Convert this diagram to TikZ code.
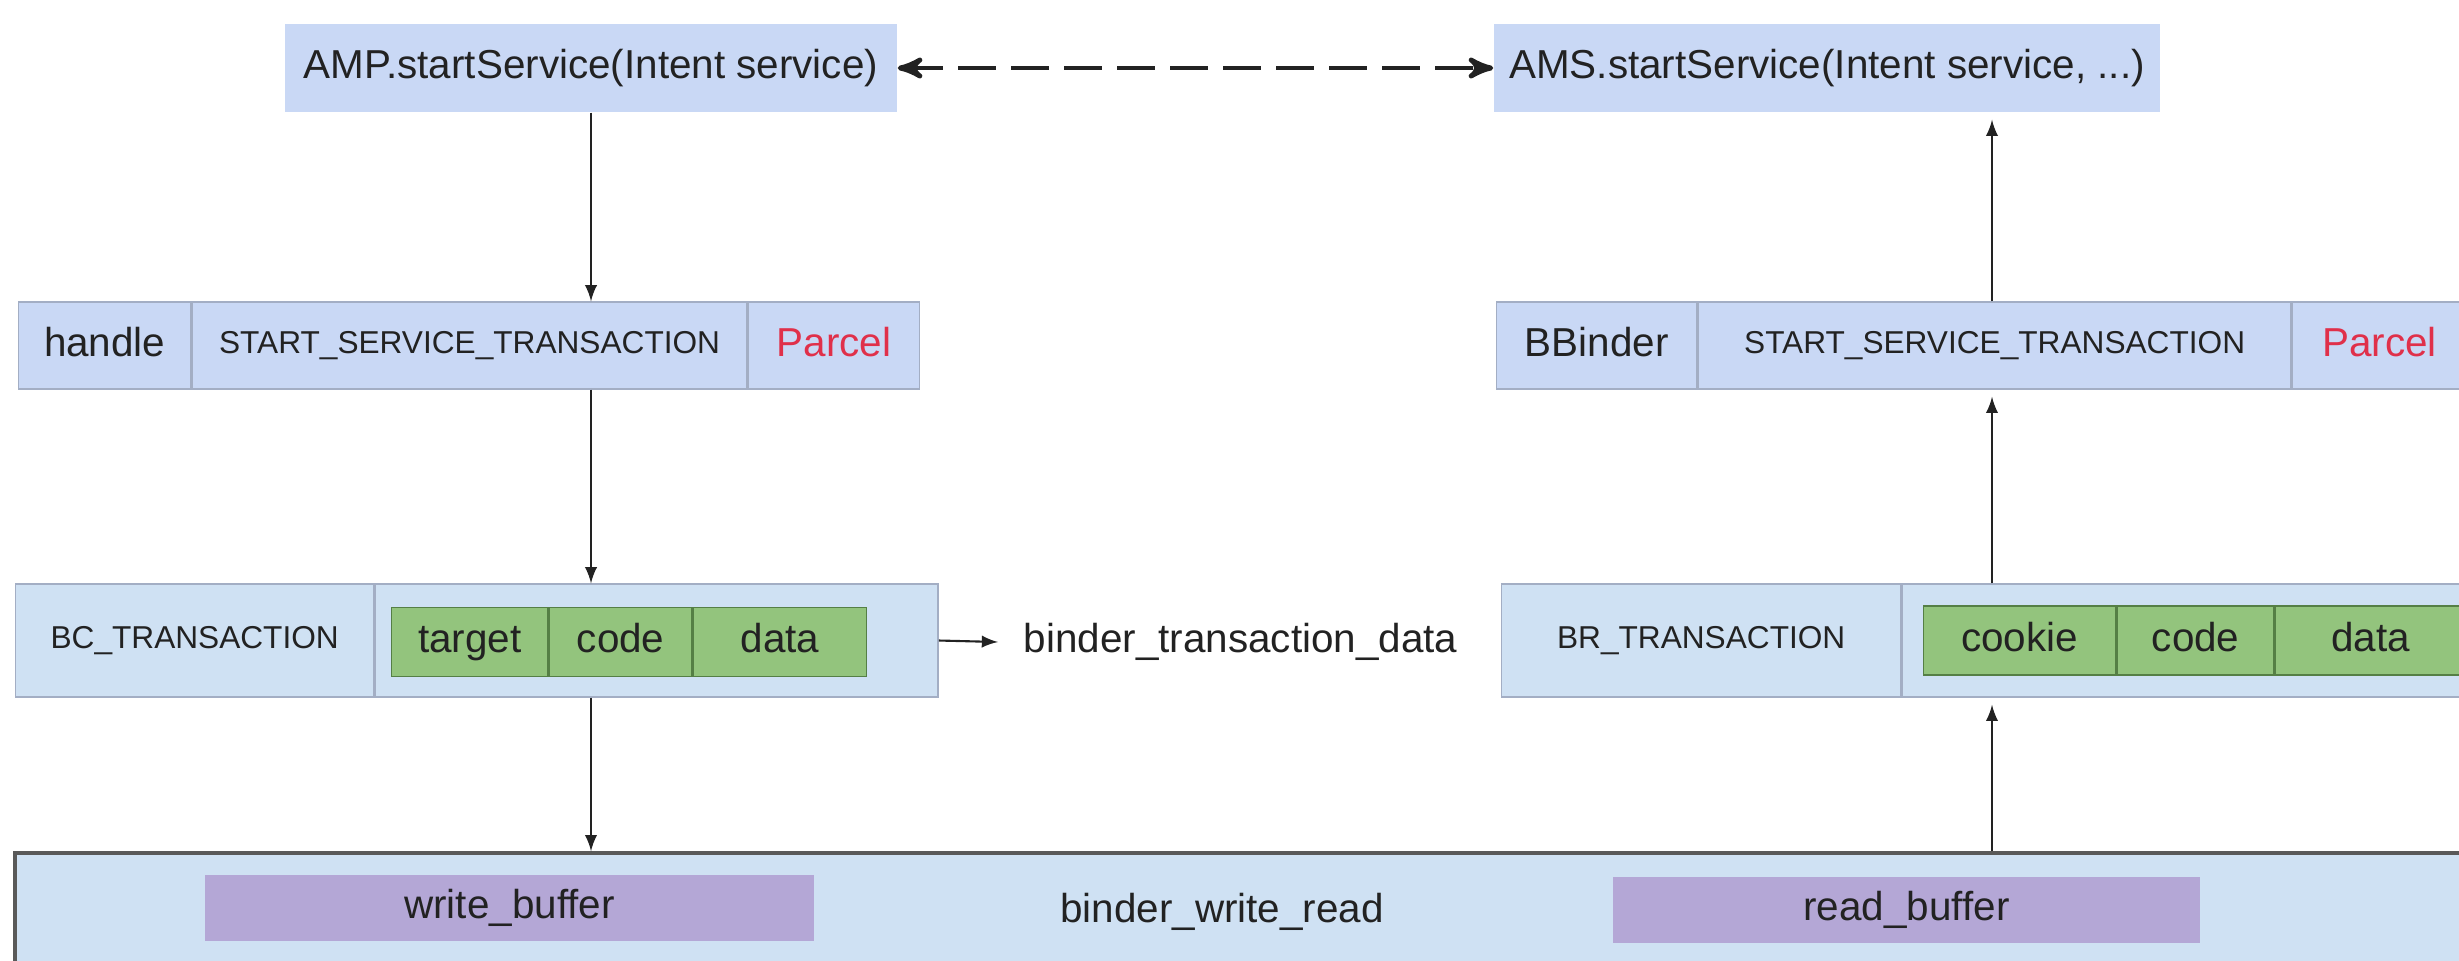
\documentclass[tikz,border=0pt]{standalone}
\usepackage{fontspec}
\setmainfont{Liberation Sans}
\usetikzlibrary{arrows, positioning}
\definecolor{callblue}{HTML}{C9D8F5}
\definecolor{rowblue}{HTML}{CFE1F3}
\definecolor{cellline}{HTML}{A3AEC4}
\definecolor{fieldgreen}{HTML}{93C47D}
\definecolor{fieldline}{HTML}{557F45}
\definecolor{bufpurple}{HTML}{B4A7D6}
\definecolor{parcelred}{HTML}{E0304A}
\definecolor{inkgray}{HTML}{222222}

\begin{document}
\begin{tikzpicture}[
  big/.style={font=\fontsize{11.5}{13}\selectfont, text=inkgray, text height=8.4pt, text depth=2.4pt},
  small/.style={font=\fontsize{9}{11}\selectfont, text=inkgray, text height=6.6pt, text depth=1.9pt},
  call/.style={rectangle, fill=callblue, minimum height=0.88cm, inner sep=0pt, big},
  cell/.style={rectangle, draw=cellline, fill=callblue, minimum height=0.87cm, inner sep=0pt},
  cmdcell/.style={rectangle, draw=cellline, fill=rowblue, minimum height=1.13cm, inner sep=0pt},
  field/.style={rectangle, draw=fieldline, fill=fieldgreen, minimum height=0.69cm, inner sep=0pt, big},
  buf/.style={rectangle, fill=bufpurple, minimum height=0.66cm, inner sep=0pt, big},
  flow/.style={-latex, line width=0.6pt, inkgray}
]
\useasboundingbox (0,0) rectangle (24.59,-9.60);
\clip (0,0) rectangle (24.59,-9.60);

% Calls
\node[call, minimum width=6.12cm] (amp) at (5.91,-0.68) {AMP.startService(Intent service)};
\node[call, minimum width=6.66cm] (ams) at (18.27,-0.68) {AMS.startService(Intent service, ...)};
\draw[stealth'-stealth', line width=1.4pt, dash pattern=on 0.38cm off 0.15cm, inkgray] (amp.east) -- (ams.west);

% Parcel rows
\node[cell, minimum width=1.72cm, big, anchor=west] (handle) at (0.18,-3.455) {handle};
\node[cell, minimum width=5.55cm, small, right=0pt of handle] (sstleft) {START\_SERVICE\_TRANSACTION};
\node[cell, minimum width=1.71cm, big, text=parcelred, right=0pt of sstleft] (parcelleft) {Parcel};

\node[cell, minimum width=2.00cm, big, anchor=west] (bbinder) at (14.96,-3.455) {BBinder};
\node[cell, minimum width=5.93cm, small, right=0pt of bbinder] (sstright) {START\_SERVICE\_TRANSACTION};
\node[cell, minimum width=1.74cm, big, text=parcelred, right=0pt of sstright] (parcelright) {Parcel};

% Commands
\node[cmdcell, minimum width=3.58cm, small, anchor=west] (bc) at (0.15,-6.405) {BC\_TRANSACTION};
\node[cmdcell, minimum width=5.63cm, right=0pt of bc] (bcargs) {};
\node[field, minimum width=1.56cm, anchor=west] (target) at (3.91,-6.42) {target};
\node[field, minimum width=1.43cm, right=0pt of target] (codeleft) {code};
\node[field, minimum width=1.73cm, right=0pt of codeleft] (dataleft) {data};
\node[big, anchor=west, inner xsep=0.25cm] (btd) at (9.98,-6.42) {binder\_transaction\_data};

\node[cmdcell, minimum width=3.99cm, small, anchor=west] (br) at (15.01,-6.405) {BR\_TRANSACTION};
\node[cmdcell, minimum width=5.80cm, right=0pt of br] (brargs) {};
\node[field, minimum width=1.92cm, anchor=west] (cookie) at (19.23,-6.405) {cookie};
\node[field, minimum width=1.57cm, right=0pt of cookie] (coderight) {code};
\node[field, minimum width=1.90cm, right=0pt of coderight] (dataright) {data};

% binder_write_read
\node[rectangle, draw=black!65, line width=1pt, fill=rowblue, minimum width=24.65cm, minimum height=1.30cm, inner sep=0pt] (bwr) at (12.475,-9.18) {};
\node[buf, minimum width=6.09cm] (wbuf) at (5.095,-9.08) {write\_buffer};
\node[big] (bwrlabel) at (12.22,-9.12) {binder\_write\_read};
\node[buf, minimum width=5.87cm] (rbuf) at (19.065,-9.10) {read\_buffer};

% Arrows
\coordinate (rcol) at (19.92,0);
\draw[flow] (amp.south) -- (amp.south |- handle.north);
\draw[flow] (amp.south |- handle.south) -- (amp.south |- bc.north);
\draw[flow] (amp.south |- bc.south) -- (amp.south |- bwr.north);
\draw[flow] (bcargs.east) -- (btd.west);
\draw[flow, shorten >=2pt] (rcol |- bwr.north) -- (rcol |- br.south);
\draw[flow, shorten >=2pt] (rcol |- br.north) -- (rcol |- bbinder.south);
\draw[flow, shorten >=2pt] (rcol |- bbinder.north) -- (rcol |- ams.south);
\end{tikzpicture}
\end{document}
